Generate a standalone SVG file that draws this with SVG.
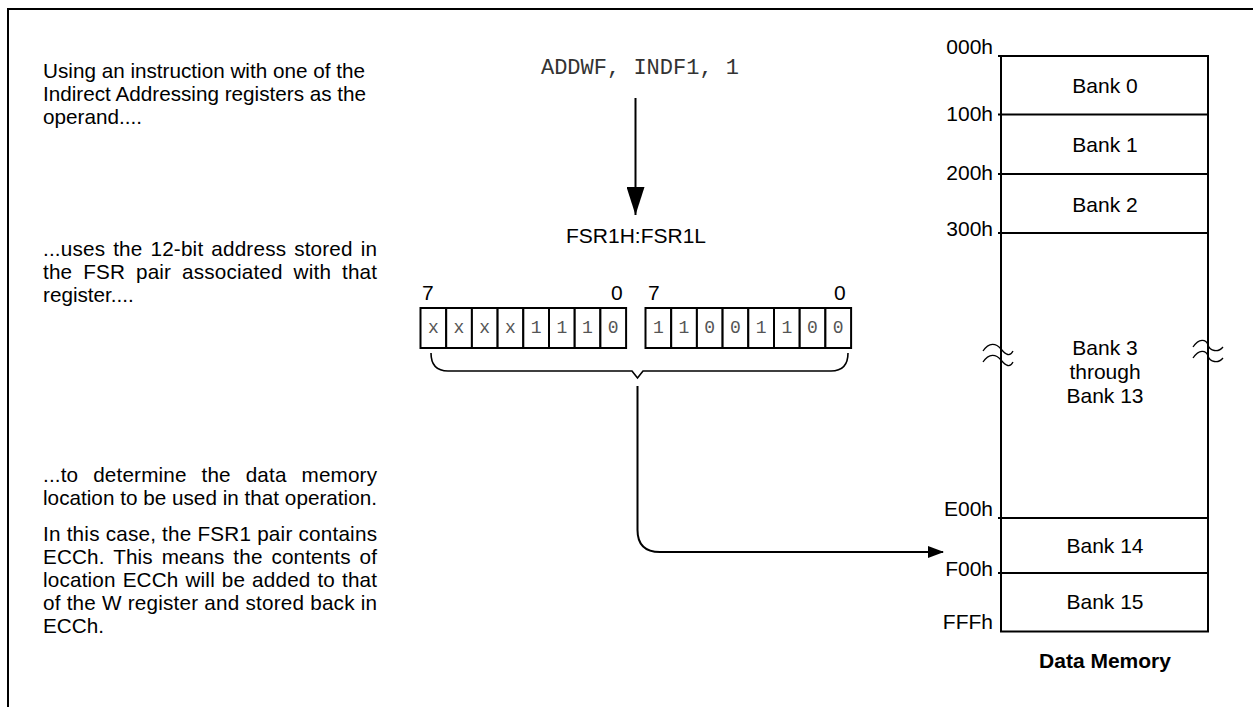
<svg xmlns="http://www.w3.org/2000/svg" width="1253" height="707" viewBox="0 0 1253 707">
<style>
text{font-family:"Liberation Sans",Arial,sans-serif;font-size:21px;fill:#000}
.desc{font-size:20.7px}
.mono{font-family:"Liberation Mono","Courier New",monospace;font-size:22px;fill:#333}
.bit{font-family:"Liberation Mono","Courier New",monospace;font-size:18px;fill:#555;text-anchor:middle}
.mid{text-anchor:middle}
.end{text-anchor:end}
.ln{fill:none;stroke:#000;stroke-width:2}
.cell{fill:#fff;stroke:#000;stroke-width:2}
</style>
<defs>
<marker id="ah" markerWidth="16" markerHeight="12" refX="15" refY="6" orient="auto" markerUnits="userSpaceOnUse">
<path d="M0,0 L16,6 L0,12 Z" fill="#000"/>
</marker>
<marker id="ahd" markerWidth="30" markerHeight="18" refX="28" refY="9" orient="auto" markerUnits="userSpaceOnUse">
<path d="M0,0 L28,9 L0,18 Z" fill="#000"/>
</marker>
</defs>
<rect width="1253" height="707" fill="#fff"/>
<path d="M8,707 V9 H1253" class="ln"/>

<g id="desc-text">
<text class="desc" x="43" y="78">Using an instruction with one of the</text>
<text class="desc" x="43" y="101">Indirect Addressing registers as the</text>
<text class="desc" x="43" y="124">operand....</text>
<text class="desc" x="43" y="256" word-spacing="2" textLength="334" lengthAdjust="spacing">...uses the 12-bit address stored in</text>
<text class="desc" x="43" y="279" word-spacing="5" textLength="334" lengthAdjust="spacing">the FSR pair associated with that</text>
<text class="desc" x="43" y="302">register....</text>
<text class="desc" x="43" y="482" word-spacing="9" textLength="334" lengthAdjust="spacing">...to determine the data memory</text>
<text class="desc" x="43" y="505" textLength="334" lengthAdjust="spacing">location to be used in that operation.</text>
<text class="desc" x="43" y="541" textLength="334" lengthAdjust="spacing">In this case, the FSR1 pair contains</text>
<text class="desc" x="43" y="564" word-spacing="3" textLength="334" lengthAdjust="spacing">ECCh. This means the contents of</text>
<text class="desc" x="43" y="587" word-spacing="1" textLength="334" lengthAdjust="spacing">location ECCh will be added to that</text>
<text class="desc" x="43" y="610" textLength="334" lengthAdjust="spacing">of the W register and stored back in</text>
<text class="desc" x="43" y="633">ECCh.</text>
</g>

<g id="instruction">
<text class="mono mid" x="640" y="74">ADDWF, INDF1, 1</text>
</g>

<g id="fsr-label">
<text class="mid" x="636" y="243">FSR1H:FSR1L</text>
</g>

<g id="fsr1h">
<text x="422" y="300">7</text>
<text x="611" y="300">0</text>
<rect class="cell" x="420.5" y="308" width="25.7" height="40"/>
<rect class="cell" x="446.2" y="308" width="25.7" height="40"/>
<rect class="cell" x="471.9" y="308" width="25.7" height="40"/>
<rect class="cell" x="497.6" y="308" width="25.7" height="40"/>
<rect class="cell" x="523.3" y="308" width="25.7" height="40"/>
<rect class="cell" x="549" y="308" width="25.7" height="40"/>
<rect class="cell" x="574.7" y="308" width="25.7" height="40"/>
<rect class="cell" x="600.4" y="308" width="25.7" height="40"/>
<text class="bit" x="433.3" y="333">x</text>
<text class="bit" x="459" y="333">x</text>
<text class="bit" x="484.7" y="333">x</text>
<text class="bit" x="510.4" y="333">x</text>
<text class="bit" x="536.1" y="333">1</text>
<text class="bit" x="561.8" y="333">1</text>
<text class="bit" x="587.5" y="333">1</text>
<text class="bit" x="613.2" y="333">0</text>
</g>

<g id="fsr1l">
<text x="648" y="300">7</text>
<text x="834" y="300">0</text>
<rect class="cell" x="645.5" y="308" width="25.7" height="40"/>
<rect class="cell" x="671.2" y="308" width="25.7" height="40"/>
<rect class="cell" x="696.9" y="308" width="25.7" height="40"/>
<rect class="cell" x="722.6" y="308" width="25.7" height="40"/>
<rect class="cell" x="748.3" y="308" width="25.7" height="40"/>
<rect class="cell" x="774" y="308" width="25.7" height="40"/>
<rect class="cell" x="799.7" y="308" width="25.7" height="40"/>
<rect class="cell" x="825.4" y="308" width="25.7" height="40"/>
<text class="bit" x="658.3" y="333">1</text>
<text class="bit" x="684" y="333">1</text>
<text class="bit" x="709.7" y="333">0</text>
<text class="bit" x="735.4" y="333">0</text>
<text class="bit" x="761.1" y="333">1</text>
<text class="bit" x="786.8" y="333">1</text>
<text class="bit" x="812.5" y="333">0</text>
<text class="bit" x="838.2" y="333">0</text>
</g>

<g id="brace">
<path d="M431,353 Q431,371 448,371 H632 L637.5,378 L643,371 H831 Q848,371 848,353" fill="none" stroke="#000" stroke-width="1.6"/>
</g>

<g id="memory">
<rect x="1001" y="56" width="207" height="575.5" fill="#fff" stroke="#000" stroke-width="2"/>
<path class="ln" d="M998,56 H1208 M998,114.5 H1208 M998,174 H1208 M998,233 H1208 M998,518 H1208 M998,573 H1208"/>
<text class="end" x="993" y="54">000h</text>
<text class="end" x="993" y="121">100h</text>
<text class="end" x="993" y="180">200h</text>
<text class="end" x="993" y="236">300h</text>
<text class="end" x="993" y="516">E00h</text>
<text class="end" x="993" y="576">F00h</text>
<text class="end" x="993" y="629">FFFh</text>
<text class="mid" x="1105" y="93">Bank 0</text>
<text class="mid" x="1105" y="152">Bank 1</text>
<text class="mid" x="1105" y="212">Bank 2</text>
<text class="mid" x="1105" y="355">Bank 3</text>
<text class="mid" x="1105" y="379">through</text>
<text class="mid" x="1105" y="403">Bank 13</text>
<text class="mid" x="1105" y="553">Bank 14</text>
<text class="mid" x="1105" y="609">Bank 15</text>
<text class="mid" x="1105" y="668" font-weight="bold">Data Memory</text>
<path d="M983,351 C989,342 996,343 1001,349 S1010,357 1013,351 M983,362 C989,353 996,354 1001,360 S1010,368 1013,362" fill="none" stroke="#000" stroke-width="1.3"/>
<path d="M1193,347 C1199,338 1206,339 1208,345 S1218,353 1223,347 M1193,358 C1199,349 1206,350 1208,356 S1218,364 1223,358" fill="none" stroke="#000" stroke-width="1.3"/>
</g>

<g id="connectors">
<path d="M635.5,98 V215" class="ln" marker-end="url(#ahd)"/>
<path d="M637.5,386 V530 Q637.5,552 660,552 H943" class="ln" marker-end="url(#ah)"/>
</g>
</svg>
